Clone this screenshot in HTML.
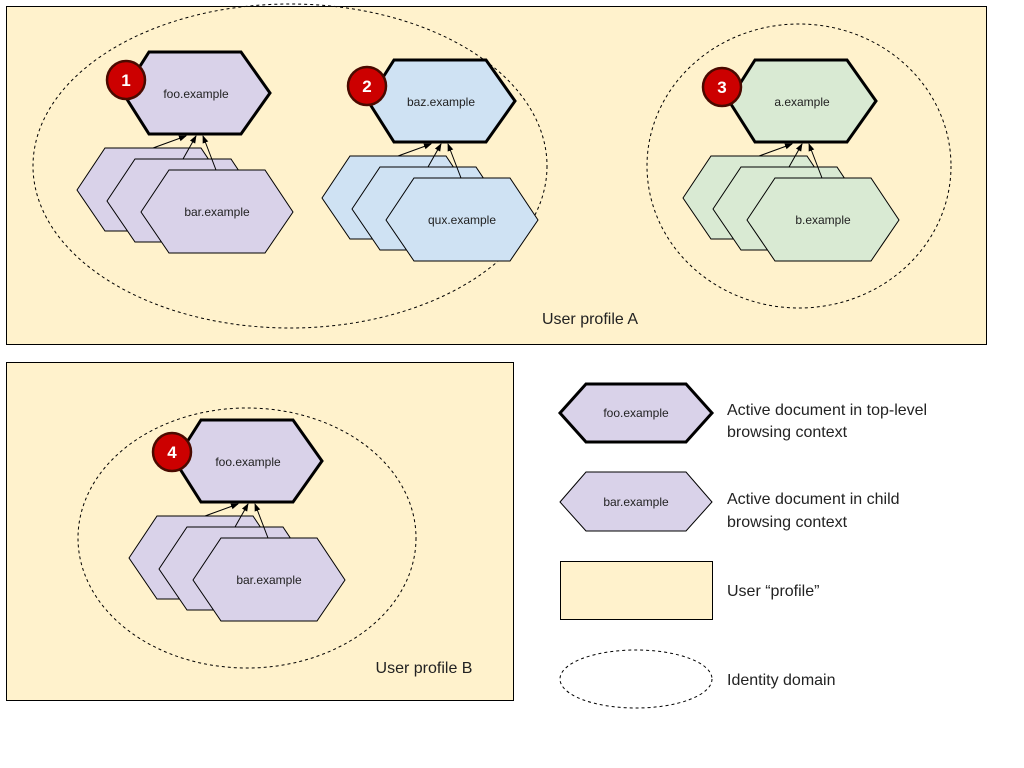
<!DOCTYPE html>
<html><head><meta charset="utf-8"><style>body{margin:0;background:#fff}svg{display:block}text{font-family:"Liberation Sans",sans-serif}</style></head><body>
<svg width="1024" height="768" viewBox="0 0 1024 768" xmlns="http://www.w3.org/2000/svg">
<defs>
<polygon id="ht" points="0,41 26,0 118,0 147,41 118,82 26,82"/>
<polygon id="hc" points="0,42 28,0 124,0 152,42 124,83 28,83"/>
<marker id="ar" markerWidth="8" markerHeight="8" refX="7" refY="4" orient="auto" markerUnits="userSpaceOnUse"><path d="M0,1 L8,4 L0,7z" fill="#000"/></marker>
</defs>
<rect x="6.5" y="6.5" width="980" height="338" fill="#fff2cc" stroke="#000"/>
<rect x="6.5" y="362.5" width="507" height="338" fill="#fff2cc" stroke="#000"/>
<ellipse cx="290" cy="166" rx="257" ry="162" fill="none" stroke="#000" stroke-dasharray="3,3"/>
<ellipse cx="799" cy="166" rx="152" ry="142" fill="none" stroke="#000" stroke-dasharray="3,3"/>
<ellipse cx="247" cy="538" rx="169" ry="130" fill="none" stroke="#000" stroke-dasharray="3,3"/>

<g fill="#d9d2e9">
<g>
 <use href="#hc" x="77" y="148" stroke="#000"/><use href="#hc" x="107" y="159" stroke="#000"/><use href="#hc" x="141" y="170" stroke="#000"/>
 <text x="217" y="216" font-size="12" text-anchor="middle" fill="#222">bar.example</text>
 <g stroke="#000" fill="none" marker-end="url(#ar)"><line x1="153" y1="148" x2="186" y2="136"/><line x1="183" y1="159" x2="196" y2="136"/><line x1="216" y1="170" x2="203" y2="136"/></g>
 <use href="#ht" x="123" y="52" stroke="#000" stroke-width="3"/>
 <text x="196" y="98" font-size="12" text-anchor="middle" fill="#222">foo.example</text>
</g>
<g transform="translate(52,368)">
 <use href="#hc" x="77" y="148" stroke="#000"/><use href="#hc" x="107" y="159" stroke="#000"/><use href="#hc" x="141" y="170" stroke="#000"/>
 <text x="217" y="216" font-size="12" text-anchor="middle" fill="#222">bar.example</text>
 <g stroke="#000" fill="none" marker-end="url(#ar)"><line x1="153" y1="148" x2="186" y2="136"/><line x1="183" y1="159" x2="196" y2="136"/><line x1="216" y1="170" x2="203" y2="136"/></g>
 <use href="#ht" x="123" y="52" stroke="#000" stroke-width="3"/>
 <text x="196" y="98" font-size="12" text-anchor="middle" fill="#222">foo.example</text>
</g>
</g>
<g fill="#cfe2f3" transform="translate(245,8)">
 <use href="#hc" x="77" y="148" stroke="#000"/><use href="#hc" x="107" y="159" stroke="#000"/><use href="#hc" x="141" y="170" stroke="#000"/>
 <text x="217" y="216" font-size="12" text-anchor="middle" fill="#222">qux.example</text>
 <g stroke="#000" fill="none" marker-end="url(#ar)"><line x1="153" y1="148" x2="186" y2="136"/><line x1="183" y1="159" x2="196" y2="136"/><line x1="216" y1="170" x2="203" y2="136"/></g>
 <use href="#ht" x="123" y="52" stroke="#000" stroke-width="3"/>
 <text x="196" y="98" font-size="12" text-anchor="middle" fill="#222">baz.example</text>
</g>
<g fill="#d9ead3" transform="translate(606,8)">
 <use href="#hc" x="77" y="148" stroke="#000"/><use href="#hc" x="107" y="159" stroke="#000"/><use href="#hc" x="141" y="170" stroke="#000"/>
 <text x="217" y="216" font-size="12" text-anchor="middle" fill="#222">b.example</text>
 <g stroke="#000" fill="none" marker-end="url(#ar)"><line x1="153" y1="148" x2="186" y2="136"/><line x1="183" y1="159" x2="196" y2="136"/><line x1="216" y1="170" x2="203" y2="136"/></g>
 <use href="#ht" x="123" y="52" stroke="#000" stroke-width="3"/>
 <text x="196" y="98" font-size="12" text-anchor="middle" fill="#222">a.example</text>
</g>

<g stroke="#4a0a00" stroke-width="2.5" fill="#cc0000">
<circle cx="126" cy="80" r="19"/><circle cx="367" cy="86" r="19"/><circle cx="722" cy="87" r="19"/><circle cx="172" cy="452" r="19"/>
</g>
<g fill="#fff" font-size="17" font-weight="bold" text-anchor="middle">
<text x="126" y="86">1</text><text x="367" y="92">2</text><text x="722" y="93">3</text><text x="172" y="458">4</text>
</g>

<text x="590" y="324" font-size="16" text-anchor="middle" fill="#222">User profile A</text>
<text x="424" y="673" font-size="16" text-anchor="middle" fill="#222">User profile B</text>

<polygon points="560,413 586,384 686,384 712,413 686,442 586,442" fill="#d9d2e9" stroke="#000" stroke-width="3"/>
<text x="636" y="417" font-size="12" text-anchor="middle" fill="#222">foo.example</text>
<polygon points="560,502 586,472 686,472 712,502 686,531 586,531" fill="#d9d2e9" stroke="#000"/>
<text x="636" y="506" font-size="12" text-anchor="middle" fill="#222">bar.example</text>
<rect x="560.5" y="561.5" width="152" height="58" fill="#fff2cc" stroke="#000"/>
<ellipse cx="636" cy="679" rx="76" ry="29" fill="none" stroke="#000" stroke-dasharray="3,3"/>
<g font-size="16" fill="#222">
<text x="727" y="415">Active document in top-level</text>
<text x="727" y="437">browsing context</text>
<text x="727" y="504">Active document in child</text>
<text x="727" y="527">browsing context</text>
<text x="727" y="596">User “profile”</text>
<text x="727" y="685">Identity domain</text>
</g>
</svg>
</body></html>
